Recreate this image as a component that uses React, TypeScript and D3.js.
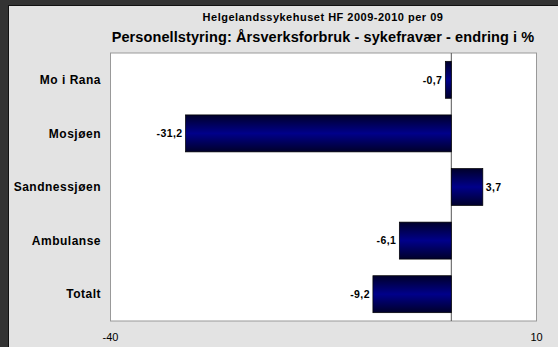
import React from "react";
import * as d3 from "d3";

const categories = ["Mo i Rana", "Mosjøen", "Sandnessjøen", "Ambulanse", "Totalt"];
const values = [-0.7, -31.2, 3.7, -6.1, -9.2];
const valueLabels = ["-0,7", "-31,2", "3,7", "-6,1", "-9,2"];
const xDomain = [-40, 10];
const tickValues = [-40, 10];
const title1 = "Helgelandssykehuset HF 2009-2010 per 09";
const title2 = "Personellstyring: Årsverksforbruk - sykefravær - endring i %";

export default function App() {
  const W = 558, H = 347;
  const left = 110.5, right = 536.5, top = 53, bottom = 321;
  const x = d3.scaleLinear().domain(xDomain).range([left, right]);
  const y = d3.scaleBand().domain(categories).range([top, bottom]).paddingInner(0.31).paddingOuter(0.155);
  const font = "Arial, 'Liberation Sans', Helvetica, sans-serif";
  return (
    <svg width={W} height={H} style={{ position: "absolute", left: 0, top: 0 }}>
      <defs>
        <linearGradient id="barGrad" x1="0" y1="0" x2="0" y2="1">
          <stop offset="0" stopColor="#00002a" />
          <stop offset="0.5" stopColor="#00008a" />
          <stop offset="1" stopColor="#00002a" />
        </linearGradient>
      </defs>
      <rect x={0} y={0} width={W} height={H} fill="#333333" />
      <rect x={8} y={5} width={W - 8} height={H - 5} fill="#111" />
      <rect x={9} y={6} width={W - 9} height={H - 6} fill="#e3e3e3" />
      <text x={323} y={21} textAnchor="middle" fontFamily={font} fontWeight="bold" fontSize={11} letterSpacing={0.5} fill="#000">{title1}</text>
      <text x={323} y={42} textAnchor="middle" fontFamily={font} fontWeight="bold" fontSize={14.5} letterSpacing={0.1} fill="#000">{title2}</text>
      <rect x={left} y={top} width={right - left} height={bottom - top} fill="#fff" stroke="#999" strokeWidth={1} />
      <line x1={x(0)} x2={x(0)} y1={top} y2={bottom} stroke="#555" strokeWidth={1} />
      {categories.map((c, i) => {
        const v = values[i];
        const x0 = x(Math.min(0, v));
        const x1 = x(Math.max(0, v));
        const yb = y(c)!;
        const bh = y.bandwidth();
        const cy = yb + bh / 2;
        return (
          <g key={c}>
            <rect x={x0} y={yb} width={x1 - x0} height={bh} fill="url(#barGrad)" stroke="#000" strokeWidth={0.7} />
            <text x={v < 0 ? x0 - 3 : x1 + 3} y={cy + 3.8} textAnchor={v < 0 ? "end" : "start"} fontFamily={font} fontWeight="bold" fontSize={10.5} letterSpacing={0.4} fill="#000">{valueLabels[i]}</text>
            <text x={101} y={cy + 4.2} textAnchor="end" fontFamily={font} fontWeight="bold" fontSize={12} letterSpacing={0.5} fill="#000">{c}</text>
          </g>
        );
      })}
      {tickValues.map((t) => (
        <text key={t} x={x(t)} y={341} textAnchor="middle" fontFamily={font} fontSize={11} fill="#000">{t}</text>
      ))}
    </svg>
  );
}
